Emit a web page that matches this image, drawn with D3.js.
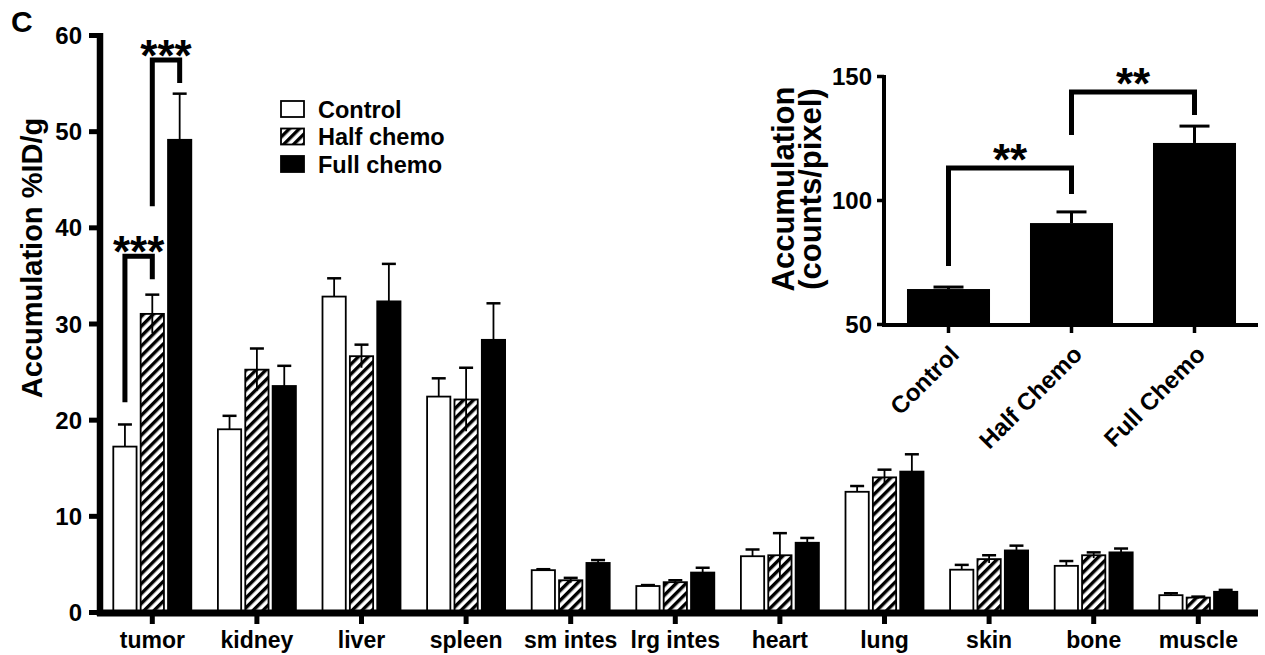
<!DOCTYPE html>
<html><head><meta charset="utf-8">
<script src="https://cdn.jsdelivr.net/npm/d3@7"></script>
<style>
body{margin:0;background:#fff}
text{font-family:"Liberation Sans",Arial,Helvetica,sans-serif;font-weight:bold;fill:#000}
</style>
</head><body>
<svg id="chart" width="1265" height="655"></svg>
<script>
// ---------- data ----------
const categories = ["tumor","kidney","liver","spleen","sm intes","lrg intes","heart","lung","skin","bone","muscle"];
const seriesNames = ["Control","Half chemo","Full chemo"];
const controlVals = [17.2,19.0,32.8,22.4,4.35,2.7,5.8,12.5,4.4,4.8,1.75];
const controlErr  = [2.3,1.4,1.9,1.9,0.1,0.1,0.7,0.6,0.5,0.5,0.2];
const halfVals    = [31.0,25.2,26.6,22.1,3.3,3.1,5.9,14.0,5.5,5.9,1.5];
const halfErr     = [2.0,2.2,1.2,3.3,0.25,0.2,2.3,0.8,0.4,0.3,0.1];
const fullVals    = [49.1,23.5,32.3,28.3,5.1,4.1,7.2,14.6,6.4,6.2,2.1];
const fullErr     = [4.8,2.1,3.9,3.8,0.3,0.5,0.5,1.8,0.5,0.4,0.2];
const yTicks = [0,10,20,30,40,50,60];
// significance brackets (main): from series index a to b in category "tumor"
const mainBrackets = [
  {cat:"tumor", a:0, b:1, leftEnd:21.8, top:37.0, rightEnd:34.6, label:"***"},
  {cat:"tumor", a:1, b:2, leftEnd:42.2, top:57.4, rightEnd:55.0, label:"***"}
];
// inset
const insetCats = ["Control","Half Chemo","Full Chemo"];
const insetVals = [64.1, 90.7, 123.0];
const insetErr  = [0.8, 4.5, 6.8];
const insetTicks = [50,100,150];
const insetBrackets = [
  {a:0, b:1, leftEnd:73.4, top:112.9, rightEnd:102.4, label:"**"},
  {a:1, b:2, leftEnd:126.2, top:143.5, rightEnd:134.3, label:"**"}
];

const svg = d3.select("#chart");
const defs = svg.append("defs");
const pat = defs.append("pattern").attr("id","hatch")
  .attr("patternUnits","userSpaceOnUse").attr("width",7).attr("height",7)
  .attr("patternTransform","rotate(45)");
pat.append("rect").attr("x",0).attr("y",0).attr("width",3.4).attr("height",7).attr("fill","#000");

const fills = ["#fff","url(#hatch)","#000"];
const seriesVals = [controlVals, halfVals, fullVals];
const seriesErr = [controlErr, halfErr, fullErr];

// ---------- main chart ----------
const y = d3.scaleLinear().domain([0,60]).range([612,35]);
const x = d3.scaleBand().domain(categories).range([100,1250.6]).padding(0);
const xs = d3.scaleBand().domain(seriesNames).range([-39,39]).paddingInner(0.15);
const barX = (cat, s) => x(cat) + x.bandwidth()/2 + xs(s);
const barC = (cat, s) => barX(cat, s) + xs.bandwidth()/2;

const rows = [];
categories.forEach((c,i)=>seriesNames.forEach((s,j)=>rows.push({cat:c, s, j, v:seriesVals[j][i], e:seriesErr[j][i]})));

// error bars (drawn first; transparent hatch shows lower whisker)
const eb = svg.append("g");
eb.selectAll("line.w").data(rows).join("line")
  .attr("x1",d=>barC(d.cat,d.s)).attr("x2",d=>barC(d.cat,d.s))
  .attr("y1",d=>y(d.v-d.e)).attr("y2",d=>y(d.v+d.e))
  .attr("stroke","#000").attr("stroke-width",1.8);
eb.selectAll("line.c").data(rows).join("line")
  .attr("x1",d=>barC(d.cat,d.s)-7).attr("x2",d=>barC(d.cat,d.s)+7)
  .attr("y1",d=>y(d.v+d.e)).attr("y2",d=>y(d.v+d.e))
  .attr("stroke","#000").attr("stroke-width",2.5);

svg.append("g").selectAll("rect").data(rows).join("rect")
  .attr("x",d=>barX(d.cat,d.s)).attr("width",xs.bandwidth())
  .attr("y",d=>y(d.v)).attr("height",d=>y(0)-y(d.v))
  .attr("fill",d=>fills[d.j]).attr("stroke","#000").attr("stroke-width",1.8);

// axes
const yAxis = svg.append("g").attr("transform","translate(100,0)")
  .call(d3.axisLeft(y).tickValues(yTicks).tickSize(11).tickSizeOuter(0).tickPadding(7));
yAxis.select(".domain").attr("stroke-width",6.5).attr("d",`M0,${y(0)+4}V${y(60)-2}`);
yAxis.selectAll(".tick line").attr("stroke-width",5);
yAxis.selectAll(".tick text").attr("font-size",24).attr("font-family",null).attr("dy","0.36em");

const xAxis = svg.append("g").attr("transform",`translate(0,${y(0)+1})`)
  .call(d3.axisBottom(x).tickSize(11).tickSizeOuter(0).tickPadding(8));
xAxis.select(".domain").attr("stroke-width",7).attr("d","M97,0H1258");
xAxis.selectAll(".tick line").attr("stroke-width",5);
xAxis.selectAll(".tick text").attr("font-size",23).attr("font-family",null);

// y label
svg.append("text").attr("transform","translate(42,258) rotate(-90)")
  .attr("text-anchor","middle").attr("font-size",29).text("Accumulation %ID/g");
svg.append("text").attr("x",11).attr("y",32).attr("font-size",30).text("C");

// main brackets
const br = svg.append("g");
mainBrackets.forEach(b=>{
  const xa = barC(b.cat, seriesNames[b.a]), xb = barC(b.cat, seriesNames[b.b]);
  br.append("path").attr("d",`M${xa},${y(b.leftEnd)}V${y(b.top)}H${xb}V${y(b.rightEnd)}`)
    .attr("fill","none").attr("stroke","#000").attr("stroke-width",5).attr("stroke-linejoin","miter");
  br.append("text").attr("x",(xa+xb)/2).attr("y",y(b.top)+11).attr("text-anchor","middle")
    .attr("font-size",44).text(b.label);
});

// legend
const lg = svg.append("g");
seriesNames.forEach((s,j)=>{
  const cy = 109 + j*27.5;
  lg.append("rect").attr("x",281).attr("y",cy-8).attr("width",23).attr("height",16)
    .attr("fill",fills[j]).attr("stroke","#000").attr("stroke-width",1.8);
  lg.append("text").attr("x",318).attr("y",cy+8.5).attr("font-size",23.5).text(s);
});

// ---------- inset ----------
const yi = d3.scaleLinear().domain([50,150]).range([324,76]);
const xi = d3.scaleBand().domain(insetCats).range([887,1256]).padding(0);
const bw = xi.bandwidth()*0.675;
const ic = c => xi(c) + xi.bandwidth()/2;
const irows = insetCats.map((c,i)=>({c, v:insetVals[i], e:insetErr[i]}));

const ig = svg.append("g");
ig.selectAll("line.w").data(irows).join("line")
  .attr("x1",d=>ic(d.c)).attr("x2",d=>ic(d.c)).attr("y1",d=>yi(d.v)).attr("y2",d=>yi(d.v+d.e))
  .attr("stroke","#000").attr("stroke-width",3);
ig.selectAll("line.c").data(irows).join("line")
  .attr("x1",d=>ic(d.c)-15).attr("x2",d=>ic(d.c)+15).attr("y1",d=>yi(d.v+d.e)).attr("y2",d=>yi(d.v+d.e))
  .attr("stroke","#000").attr("stroke-width",3);
ig.selectAll("rect").data(irows).join("rect")
  .attr("x",d=>ic(d.c)-bw/2).attr("width",bw).attr("y",d=>yi(d.v)).attr("height",d=>yi(50)-yi(d.v))
  .attr("fill","#000");

const yiAxis = svg.append("g").attr("transform","translate(884,0)")
  .call(d3.axisLeft(yi).tickValues(insetTicks).tickSize(7).tickSizeOuter(0).tickPadding(5));
yiAxis.select(".domain").attr("stroke-width",4).attr("d",`M0,${yi(50)+2}V${yi(150)-1}`);
yiAxis.selectAll(".tick line").attr("stroke-width",3.5);
yiAxis.selectAll(".tick text").attr("font-size",24).attr("font-family",null).attr("dy","0.36em");

const xiAxis = svg.append("g").attr("transform",`translate(0,${yi(50)+1})`)
  .call(d3.axisBottom(xi).tickSize(8).tickSizeOuter(0));
xiAxis.select(".domain").attr("stroke-width",4).attr("d","M882,0H1258");
xiAxis.selectAll(".tick line").attr("stroke-width",3.5);
xiAxis.selectAll(".tick text").attr("font-size",24).attr("font-family",null)
  .attr("text-anchor","end").attr("dy",0).attr("y",0)
  .attr("transform","translate(12,31) rotate(-45)");

svg.append("text").attr("transform","translate(794,189) rotate(-90)")
  .attr("text-anchor","middle").attr("font-size",31).text("Accumulation");
svg.append("text").attr("transform","translate(821,189) rotate(-90)")
  .attr("text-anchor","middle").attr("font-size",31).text("(counts/pixel)");

insetBrackets.forEach(b=>{
  const xa = ic(insetCats[b.a]), xb = ic(insetCats[b.b]);
  ig.append("path").attr("d",`M${xa},${yi(b.leftEnd)}V${yi(b.top)}H${xb}V${yi(b.rightEnd)}`)
    .attr("fill","none").attr("stroke","#000").attr("stroke-width",5);
  ig.append("text").attr("x",(xa+xb)/2).attr("y",yi(b.top)+7).attr("text-anchor","middle")
    .attr("font-size",44).text(b.label);
});
</script>
</body></html>
